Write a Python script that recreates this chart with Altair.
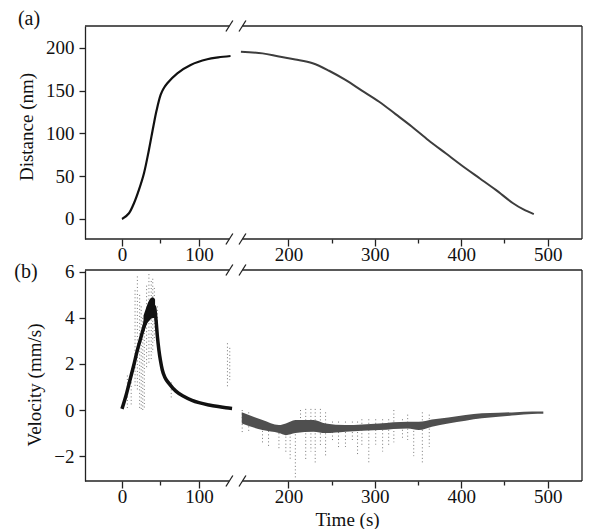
import altair as alt
import pandas as pd

# ---------------- data ----------------
# (a) distance, left of the axis break and right of it
dist_l_t = [0, 1.7, 9.1, 15.6, 22, 28.6, 35, 40.7, 45, 50.2, 53.7, 58.9, 71.9, 89.2, 110.8, 125, 141]
dist_l_d = [0, 0.8, 6.6, 18.3, 33.9, 53.4, 80.6, 107.8, 127, 144.9, 151.9, 158.5, 170.2, 180, 186.6, 188.8, 190.4]
dist_r_t = [145, 170, 189, 208, 228, 247, 266, 285, 305, 324, 343, 362, 382, 405, 422, 440, 460, 472, 484]
dist_r_d = [195.5, 193.5, 189.8, 186.4, 181.9, 173.2, 162.4, 150, 137, 122.5, 107.8, 92, 76.7, 59.2, 47, 33.9, 18.3, 11, 5.5]

# (b) velocity: main trace left of the break
vel_l_t = [0, 5, 10, 15, 20, 25, 30, 35, 39, 42, 44, 46, 48, 50, 52.4, 56, 61, 70, 80, 91, 100, 113, 125, 135, 143]
vel_l_v = [0.05, 0.6, 1.25, 1.9, 2.6, 3.2, 3.8, 4.3, 4.5, 4.5, 4.0, 3.2, 2.6, 2.15, 1.74, 1.4, 1.16, 0.82, 0.6, 0.42, 0.32, 0.22, 0.15, 0.1, 0.07]
# thickened part of the trace around the peak
peak_t = [28, 32, 36, 40, 43]
peak_lo = [3.3, 3.7, 3.9, 4.0, 4.0]
peak_hi = [4.1, 4.5, 4.8, 4.9, 4.8]
# main band right of the break
vel_r_t = [146, 170, 189, 197, 208, 229, 243, 266, 305, 338, 351, 366, 385, 405, 424, 443, 463, 482, 495]
vel_r_lo = [-0.58, -0.87, -1.0, -1.09, -1.0, -0.94, -1.0, -0.94, -0.87, -0.8, -0.87, -0.72, -0.58, -0.46, -0.36, -0.29, -0.23, -0.17, -0.16]
vel_r_hi = [-0.1, -0.43, -0.65, -0.58, -0.43, -0.43, -0.58, -0.65, -0.58, -0.51, -0.51, -0.41, -0.32, -0.22, -0.14, -0.12, -0.09, -0.06, -0.06]
# scattered outliers (vertical streaks of dots): segment, time, top, bottom
streak_seg = ["L"] * 17 + ["R"] * 30
streak_t = [7, 12, 17, 20, 23, 25, 27, 29, 32, 35, 38, 40, 42, 46, 64, 137, 140,
            146.5, 154, 170, 177, 189, 197, 202, 208, 214, 220, 226, 231, 237, 243,
            251, 258, 266, 274, 280, 285, 293, 301, 309, 316, 322, 332, 338, 345, 355, 363]
streak_top = [1.5, 1.2, 5.2, 5.8, 5.0, 4.5, 4.0, 3.8, 5.4, 5.9, 5.6, 5.7, 5.3, 4.5, 1.2, 2.9, 2.7,
              0.0, -0.1, -0.6, -0.6, -0.7, -0.7, -0.7, -0.6, 0.0, 0.05, 0.05, 0.05, 0.05, -0.1,
              -0.5, -0.5, -0.5, -0.5, -0.5, -0.4, -0.4, -0.4, -0.4, -0.4, 0.0, -0.4, -0.2, -0.6, -0.1, -0.2]
streak_bot = [0.0, 0.2, 1.0, 0.8, 0.0, 0.0, 0.0, 0.1, 1.8, 2.0, 2.2, 2.5, 3.0, 3.0, 0.5, 1.0, 1.3,
              -1.0, -0.9, -1.5, -1.6, -1.7, -1.9, -2.2, -3.0, -1.0, -2.2, -1.8, -2.3, -1.6, -2.0,
              -1.4, -1.7, -1.6, -1.3, -2.0, -1.6, -2.3, -1.5, -1.8, -1.6, -1.4, -1.2, -1.3, -2.0, -2.3, -1.6]

x_major = [0, 100, 200, 300, 400, 500]
x_minor = [50, 250, 350, 450]
dist_ticks = [0, 25, 50, 75, 100, 125, 150, 175, 200]
vel_ticks = [-2, -1, 0, 1, 2, 3, 4, 5, 6]

# ---------------- broken-axis mapping ----------------
W = 497
HA, HB = 213, 211
PXU = 0.77                # pixels per second, left segment
K = 0.864 / 0.77          # right segment is drawn with a larger scale
U200 = 216.2              # position of t=200 in left-segment units
UMIN = -48.0
UMAX = UMIN + W / PXU
SL1, SL2 = 139.5, 156.5   # centres of the two break slashes


def to_u(seg, t):
    return t if seg == "L" else U200 + K * (t - 200)


def frame_df(ts, seg):
    return [to_u(seg, t) for t in ts]


FONT = "Liberation Serif"
FS = 19
AX = "#222222"

tick_vals = [to_u("L", t) for t in [0, 50, 100]] + [to_u("R", t) for t in [200, 250, 300, 350, 400, 450, 500]]
t_expr = "(datum.value < 148 ? datum.value : round((datum.value - %f) / %f + 200))" % (U200, K)
major_test = "%s %% 100 == 0" % t_expr
x_label_expr = "%s ? format(%s, 'd') : ''" % (major_test, t_expr)


def x_axis(title=None):
    kw = dict(values=tick_vals, labelExpr=x_label_expr, domain=False, grid=False,
              tickSize={"condition": {"test": major_test, "value": 7}, "value": 4},
              tickColor=AX, tickWidth=1.3, labelFont=FONT, labelFontSize=FS, labelColor="#111",
              labelPadding=-1, labelFlush=False)
    if title:
        kw.update(title=title, titleFont=FONT, titleFontSize=FS, titleFontWeight="normal",
                  titleColor="#111", titlePadding=4, titleX=262, titleAnchor="middle")
    else:
        kw.update(title=None)
    return alt.Axis(**kw)


def y_axis(title, ticks, step, H, dy):
    test = "datum.value %% %d == 0" % step
    return alt.Axis(values=ticks, title=title, grid=False, domainColor=AX, domainWidth=1.3,
                    tickColor=AX, tickWidth=1.3,
                    tickSize={"condition": {"test": test, "value": 6}, "value": 4},
                    labelExpr="%s ? datum.label : ''" % test,
                    labelFont=FONT, labelFontSize=FS, labelColor="#111", labelPadding=5,
                    titleFont=FONT, titleFontSize=FS, titleFontWeight="normal", titleColor="#111",
                    titlePadding=9, titleY=H / 2 + dy)


xscale = alt.Scale(domain=[UMIN, UMAX], nice=False, zero=False)


def frame_layers(H):
    layers = []
    segs = pd.DataFrame({"a": [UMIN, SL2, UMIN, SL2], "b": [SL1, UMAX, SL1, UMAX],
                         "y": [0, 0, H, H]})
    layers.append(alt.Chart(segs).mark_rule(color=AX, strokeWidth=1.3).encode(
        x=alt.X("a:Q", scale=xscale), x2="b:Q", y=alt.Y("y:Q", scale=None)))
    layers.append(alt.Chart(pd.DataFrame({"u": [UMAX]})).mark_rule(color=AX, strokeWidth=1.3).encode(
        x=alt.X("u:Q", scale=xscale), y=alt.value(0), y2=alt.value(H)))
    slashes = pd.DataFrame({"c": [SL1, SL2, SL1, SL2], "yy": [0, 0, H, H]})
    slashes["a"] = slashes["c"] - 4.5
    slashes["b"] = slashes["c"] + 4.5
    slashes["y1"] = slashes["yy"] + 5.5
    slashes["y2"] = slashes["yy"] - 5.5
    layers.append(alt.Chart(slashes).mark_rule(color=AX, strokeWidth=1.3).encode(
        x=alt.X("a:Q", scale=xscale), x2="b:Q",
        y=alt.Y("y1:Q", scale=None), y2="y2:Q"))
    return layers


# ---------------- panel (a) ----------------
dl = pd.DataFrame({"u": frame_df(dist_l_t, "L"), "d": dist_l_d})
dr = pd.DataFrame({"u": frame_df(dist_r_t, "R"), "d": dist_r_d})
yA = alt.Scale(domain=[-23.5, 225.5], nice=False, zero=False)

lineL = alt.Chart(dl).mark_line(color="#111111", strokeWidth=2.2, interpolate="catmull-rom").encode(
    x=alt.X("u:Q", scale=xscale, axis=x_axis()),
    y=alt.Y("d:Q", scale=yA, axis=y_axis("Distance (nm)", dist_ticks, 50, HA, -6)))
lineR = alt.Chart(dr).mark_line(color="#3d3d3d", strokeWidth=2, interpolate="catmull-rom").encode(
    x=alt.X("u:Q", scale=xscale), y=alt.Y("d:Q", scale=yA))
labA = alt.Chart(pd.DataFrame({"s": ["(a)"]})).mark_text(
    font=FONT, fontSize=20, color="#111", align="center", baseline="middle").encode(
    text="s:N", x=alt.value(-56), y=alt.value(-7))

panelA = alt.layer(lineL, lineR, *frame_layers(HA), labA).properties(width=W, height=HA)

# ---------------- panel (b) ----------------
vl = pd.DataFrame({"u": frame_df(vel_l_t, "L"), "v": vel_l_v})
pk = pd.DataFrame({"u": frame_df(peak_t, "L"), "lo": peak_lo, "hi": peak_hi})
vr = pd.DataFrame({"u": frame_df(vel_r_t, "R"), "lo": vel_r_lo, "hi": vel_r_hi})
st = pd.DataFrame({"u": [to_u(s, t) for s, t in zip(streak_seg, streak_t)],
                   "top": streak_top, "bot": streak_bot})
yB = alt.Scale(domain=[-3.08, 6.08], nice=False, zero=False)

streaks = alt.Chart(st).mark_rule(color="#4a4a4a", strokeWidth=1, strokeDash=[1, 2.5], opacity=0.75).encode(
    x=alt.X("u:Q", scale=xscale, axis=x_axis("Time (s)")),
    y=alt.Y("top:Q", scale=yB, axis=y_axis("Velocity (mm/s)", vel_ticks, 2, HB, 9)), y2="bot:Q")
bandR = alt.Chart(vr).mark_area(color="#4f4f4f", interpolate="monotone").encode(
    x=alt.X("u:Q", scale=xscale), y=alt.Y("lo:Q", scale=yB), y2="hi:Q")
bandPk = alt.Chart(pk).mark_area(color="#111111", interpolate="monotone").encode(
    x=alt.X("u:Q", scale=xscale), y=alt.Y("lo:Q", scale=yB), y2="hi:Q")
traceL = alt.Chart(vl).mark_line(color="#111111", strokeWidth=3.5, interpolate="monotone").encode(
    x=alt.X("u:Q", scale=xscale), y=alt.Y("v:Q", scale=yB))
labB = alt.Chart(pd.DataFrame({"s": ["(b)"]})).mark_text(
    font=FONT, fontSize=20, color="#111", align="center", baseline="middle").encode(
    text="s:N", x=alt.value(-59), y=alt.value(2))

panelB = alt.layer(streaks, bandR, bandPk, traceL, *frame_layers(HB), labB).properties(width=W, height=HB)

chart = alt.vconcat(panelA, panelB, spacing=31, bounds="flush").configure_view(stroke=None).properties(
    padding={"left": 6, "top": 1, "right": 0, "bottom": 0})

chart.save("out.html", embed_options={"renderer": "svg", "actions": False})
